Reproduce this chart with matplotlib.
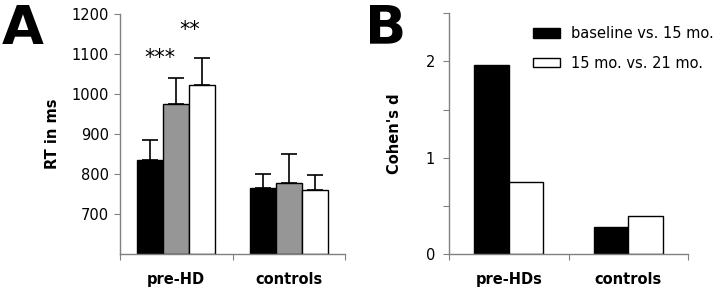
import matplotlib
matplotlib.use("Agg")
import matplotlib.pyplot as plt
import numpy as np

plt.rcParams['font.family'] = ['DejaVu Sans']

# Panel A data
groups_a = ["pre-HD", "controls"]
rt_baseline = [836, 765]
rt_15mo = [976, 778]
rt_21mo = [1022, 760]
err_baseline = [48, 36]
err_15mo = [64, 72]
err_21mo = [68, 38]
a_colors = ["black", "#969696", "white"]

# Panel B data
groups_b = ["pre-HDs", "controls"]
d_base_15 = [1.96, 0.28]
d_15_21 = [0.75, 0.39]
legend_labels = ["baseline vs. 15 mo.", "15 mo. vs. 21 mo."]

fig = plt.figure(figsize=(7.24, 2.92), dpi=100)
spine_col = "#808080"
fs = 10.5

# ---------- Panel A ----------
axA = fig.add_axes([120/724, 1-254/292, 225/724, 240/292])
w = 0.23
x = np.arange(len(groups_a))
series = [(rt_baseline, err_baseline), (rt_15mo, err_15mo), (rt_21mo, err_21mo)]
for i, (vals, errs) in enumerate(series):
    xs = x + (i - 1) * w
    axA.bar(xs, np.array(vals) - 600, bottom=600, width=w, color=a_colors[i],
            edgecolor="black", linewidth=1.0, zorder=2)
    axA.errorbar(xs, vals, yerr=[np.zeros(len(errs)), errs], fmt="none",
                 ecolor="black", elinewidth=1.2, capsize=5.5, capthick=1.2, zorder=1)
axA.set_ylim(600, 1200)
axA.set_xlim(-0.5, 1.5)
axA.set_yticks([700, 800, 900, 1000, 1100, 1200])
axA.set_xticks([-0.5, 0.5, 1.5])
axA.set_xticklabels([])
axA.set_xticks(x, minor=True)
axA.set_xticklabels(groups_a, minor=True, fontweight="bold", fontsize=fs)
axA.tick_params(axis="x", which="minor", length=0, pad=13)
axA.tick_params(axis="x", which="major", length=4, direction="out", color=spine_col)
axA.tick_params(axis="y", length=4, direction="out", color=spine_col, labelsize=fs, pad=4)
for s in ["top", "right"]:
    axA.spines[s].set_visible(False)
for s in ["left", "bottom"]:
    axA.spines[s].set_color(spine_col)
    axA.spines[s].set_linewidth(1.0)
axA.set_ylabel("RT in ms", fontweight="bold", fontsize=fs, labelpad=8)
axA.text(-0.147, 1090, "***", ha="center", va="center", fontsize=15)
axA.text(0.122, 1160, "**", ha="center", va="center", fontsize=15)

fig.text(23/724, 1-44/292, "A", fontsize=39, fontweight="bold", ha="center", va="baseline")

# ---------- Panel B ----------
axB = fig.add_axes([449/724, 1-254/292, 239/724, 240.7/292])
wb = 0.29
xb = np.arange(len(groups_b))
axB.bar(xb - wb/2, d_base_15, width=wb, color="black", edgecolor="black",
        linewidth=1.0, label=legend_labels[0])
axB.bar(xb + wb/2, d_15_21, width=wb, color="white", edgecolor="black",
        linewidth=1.0, label=legend_labels[1])
axB.set_ylim(0, 2.5)
axB.set_xlim(-0.5, 1.5)
axB.set_yticks([0, 0.5, 1, 1.5, 2, 2.5])
axB.set_yticklabels(["0", "", "1", "", "2", ""])
axB.set_xticks([-0.5, 0.5, 1.5])
axB.set_xticklabels([])
axB.set_xticks(xb, minor=True)
axB.set_xticklabels(groups_b, minor=True, fontweight="bold", fontsize=fs)
axB.tick_params(axis="x", which="minor", length=0, pad=13)
axB.tick_params(axis="x", which="major", length=4, direction="out", color=spine_col)
axB.tick_params(axis="y", length=4, direction="out", color=spine_col, labelsize=fs, pad=6)
for s in ["top", "right"]:
    axB.spines[s].set_visible(False)
for s in ["left", "bottom"]:
    axB.spines[s].set_color(spine_col)
    axB.spines[s].set_linewidth(1.0)
axB.set_ylabel("Cohen's d", fontweight="bold", fontsize=fs, labelpad=17)
axB.legend(loc="upper left", bbox_to_anchor=(78/239, 1 - 7/240.7), frameon=False, fontsize=10.5,
           handlelength=1.85, handleheight=0.62, handletextpad=0.75, labelspacing=1.0,
           borderaxespad=0)

fig.text(386/724, 1-43/292, "B", fontsize=39, fontweight="bold", ha="center", va="baseline")

fig.savefig("out.png", dpi=100)
